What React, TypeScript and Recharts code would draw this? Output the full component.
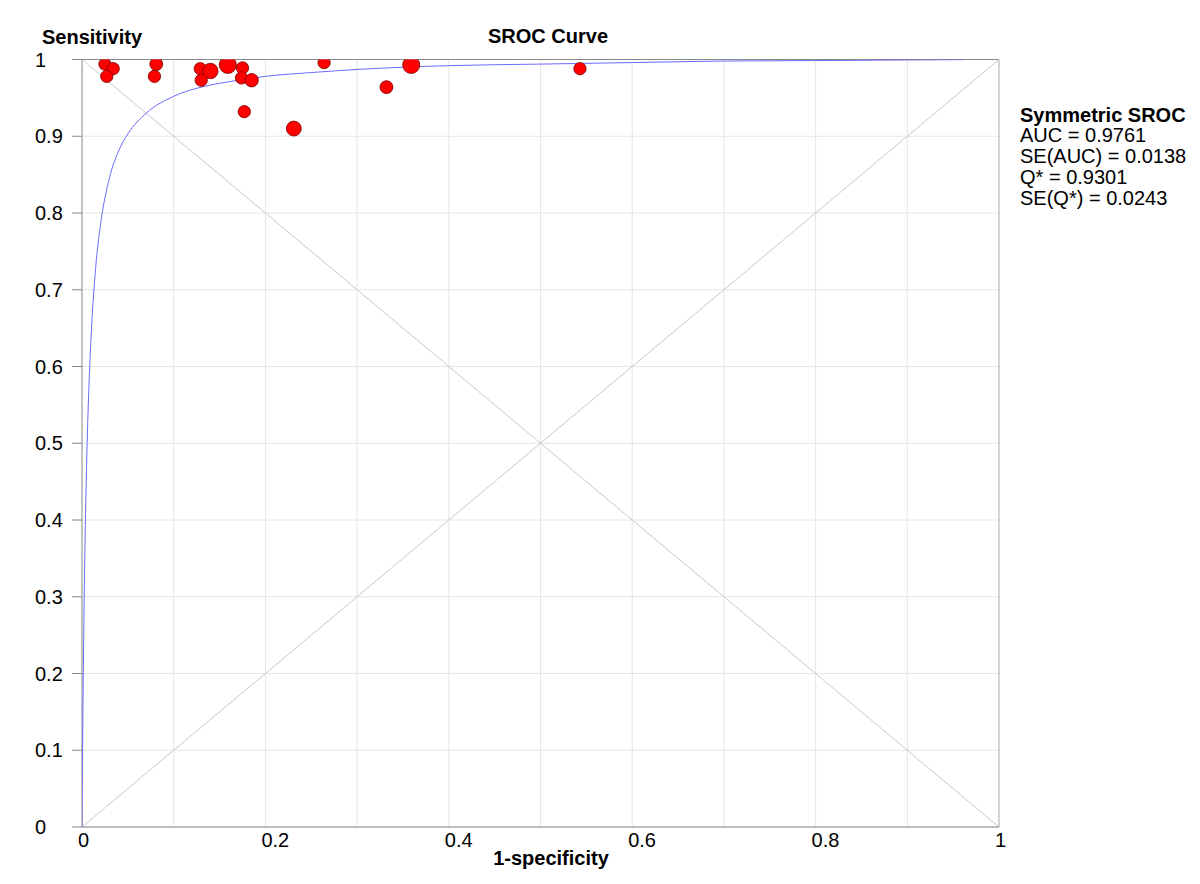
import {
  ComposedChart,
  Scatter,
  XAxis,
  YAxis,
  ZAxis,
  CartesianGrid,
  ReferenceLine,
} from "recharts";

// study points: 1-specificity, sensitivity, relative weight
const studyFpr = [
  0.025, 0.034, 0.027, 0.081, 0.079, 0.129, 0.14, 0.13, 0.159, 0.175, 0.174,
  0.185, 0.177, 0.231, 0.264, 0.332, 0.359, 0.543,
];
const studySens = [
  0.994, 0.988, 0.978, 0.994, 0.978, 0.988, 0.985, 0.973, 0.993, 0.989, 0.976,
  0.973, 0.932, 0.91, 0.996, 0.964, 0.993, 0.988,
];
const studyWeight = [1, 1, 1, 1.1, 1, 1, 1.6, 1, 2, 1, 1, 1.2, 1, 1.5, 1, 1.1, 2, 1];

// symmetric SROC curve
const curveFpr = [
  0, 0.0005, 0.001, 0.002, 0.003, 0.005, 0.0075, 0.01, 0.015, 0.02, 0.03, 0.04,
  0.05, 0.07, 0.1, 0.13, 0.16, 0.2, 0.25, 0.3, 0.4, 0.5, 0.6, 0.7, 0.8, 0.9, 0.96,
];
const curveSens = [
  0, 0.081, 0.151, 0.262, 0.348, 0.471, 0.572, 0.641, 0.73, 0.783, 0.846, 0.881,
  0.903, 0.93, 0.952, 0.964, 0.971, 0.978, 0.983, 0.987, 0.992, 0.994, 0.996,
  0.998, 0.9986, 0.9994, 0.9998,
];

const xTicks = [0, 0.2, 0.4, 0.6, 0.8, 1];
const yTicks = [0, 0.1, 0.2, 0.3, 0.4, 0.5, 0.6, 0.7, 0.8, 0.9, 1];
const xGrid = [0.1, 0.2, 0.3, 0.4, 0.5, 0.6, 0.7, 0.8, 0.9];

const statLines = [
  "AUC = 0.9761",
  "SE(AUC) = 0.0138",
  "Q* = 0.9301",
  "SE(Q*) = 0.0243",
];

const studies = studyFpr.map((x, i) => ({ x, y: studySens[i], w: studyWeight[i] }));
const curve = curveFpr.map((x, i) => ({ x, y: curveSens[i] }));

const FONT = "'Liberation Sans', Arial, sans-serif";

const XTick = (props: any) => (
  <text x={props.x - 4} y={props.y + 20} fontSize={20} fontFamily={FONT} fill="#000">
    {props.payload.value}
  </text>
);

const YTick = (props: any) => (
  <text x={35} y={props.y + 7} fontSize={20} fontFamily={FONT} fill="#000">
    {props.payload.value}
  </text>
);

export default function App() {
  return (
    <div style={{ position: "absolute", left: 0, top: 0, width: 1200, height: 884, background: "#fff" }}>
      <ComposedChart
        width={1200}
        height={884}
        margin={{ top: 59.5, right: 201, bottom: 27, left: 10 }}
      >
        <CartesianGrid vertical={false} stroke="#e6e6e6" />
        {xGrid.map((v) => (
          <ReferenceLine key={v} x={v} stroke="#e6e6e6" />
        ))}
        <XAxis
          type="number"
          dataKey="x"
          domain={[0, 1]}
          ticks={xTicks}
          tick={XTick}
          tickLine={false}
          tickSize={0}
          tickMargin={0}
          height={30}
          stroke="#888"
          allowDataOverflow
        />
        <YAxis
          type="number"
          dataKey="y"
          domain={[0, 1]}
          ticks={yTicks}
          tick={YTick}
          tickSize={10}
          width={72}
          stroke="#888"
          allowDataOverflow
        />
        <ZAxis type="number" dataKey="w" domain={[1, 2]} range={[120, 230]} />
        <ReferenceLine y={1} stroke="#888" />
        <ReferenceLine x={1} stroke="#aaa" />
        <ReferenceLine segment={[{ x: 0, y: 0 }, { x: 1, y: 1 }]} stroke="#c8c8c8" />
        <ReferenceLine segment={[{ x: 0, y: 1 }, { x: 1, y: 0 }]} stroke="#c8c8c8" />
        <Scatter
          data={curve}
          line={{ stroke: "#6a6aff", strokeWidth: 1 }}
          lineType="joint"
          lineJointType="monotoneX"
          shape={() => <g />}
          isAnimationActive={false}
        />
        <Scatter
          data={studies}
          fill="#ff0000"
          stroke="#7a0000"
          strokeWidth={0.8}
          isAnimationActive={false}
        />
      </ComposedChart>
      <svg
        width={1200}
        height={884}
        style={{ position: "absolute", left: 0, top: 0, pointerEvents: "none" }}
        fontFamily={FONT}
      >
        <text x={42} y={44} fontSize={20} fontWeight="bold">Sensitivity</text>
        <text x={548} y={43} fontSize={20} fontWeight="bold" textAnchor="middle">SROC Curve</text>
        <text x={551} y={865} fontSize={20} fontWeight="bold" textAnchor="middle">1-specificity</text>
        <text x={1020} y={122} fontSize={20} fontWeight="bold">Symmetric SROC</text>
        {statLines.map((s, i) => (
          <text key={s} x={1020} y={142 + i * 21} fontSize={20}>{s}</text>
        ))}
      </svg>
    </div>
  );
}
